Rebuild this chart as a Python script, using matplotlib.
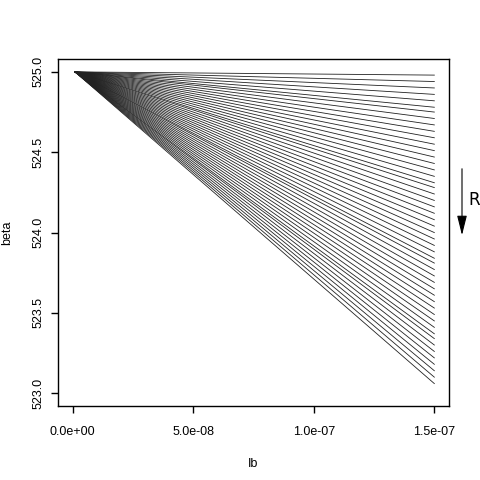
import matplotlib
matplotlib.use('Agg')
import matplotlib.pyplot as plt

# Ib range shared by every curve, and beta at the start / end of each curve
ib_start = 1e-9
ib_end = 1.5e-7
beta_start = 525.0
beta_end = [524.98, 524.94, 524.90, 524.86, 524.82, 524.78, 524.75, 524.71, 524.67, 524.63,
            524.59, 524.55, 524.51, 524.47, 524.43, 524.39, 524.35, 524.31, 524.28, 524.24,
            524.20, 524.16, 524.12, 524.08, 524.04, 524.00, 523.96, 523.92, 523.88, 523.84,
            523.81, 523.77, 523.73, 523.69, 523.65, 523.61, 523.57, 523.53, 523.49, 523.45,
            523.41, 523.37, 523.34, 523.30, 523.26, 523.22, 523.18, 523.14, 523.10, 523.06]

xticks = [0, 5e-8, 1e-7, 1.5e-7]
xticklabels = ['0.0e+00', '5.0e-08', '1.0e-07', '1.5e-07']
yticks = [523.0, 523.5, 524.0, 524.5, 525.0]
yticklabels = ['523.0', '523.5', '524.0', '524.5', '525.0']

plt.rcParams['font.family'] = ['Liberation Sans', 'DejaVu Sans']

fig = plt.figure(figsize=(4.8, 4.8), dpi=100)
ax = fig.add_axes([0.121, 0.154, 0.814, 0.723])

for b in beta_end:
    ax.plot([ib_start, ib_end], [beta_start, b], color='#222222', linewidth=0.6)

# R-style 4% padding around the data range
ax.set_xlim(-0.04 * 1.5e-7, 1.5e-7 * 1.04)
ax.set_ylim(523.0 - 0.08, 525.0 + 0.08)

ax.set_xticks(xticks)
ax.set_xticklabels(xticklabels, fontsize=9)
ax.set_yticks(yticks)
ax.set_yticklabels(yticklabels, fontsize=9, rotation=90, va='center')
ax.tick_params(direction='out', length=5, width=1)
ax.tick_params(axis='x', pad=9)
ax.tick_params(axis='y', pad=5)
for s in ax.spines.values():
    s.set_linewidth(1.0)

ax.set_xlabel('Ib', fontsize=9, labelpad=15)
ax.set_ylabel('beta', fontsize=9, labelpad=14)

# arrow outside the plot showing increasing R
fig.patches.append(matplotlib.patches.FancyArrowPatch(
    (462 / 480, 1 - 166 / 480), (462 / 480, 1 - 238 / 480),
    transform=fig.transFigure, arrowstyle='-|>,head_length=1.0,head_width=0.25',
    mutation_scale=12, color='black', linewidth=0.8))
fig.text(468 / 480, 1 - 200 / 480, 'R', fontsize=12, family='DejaVu Sans', va='center')

fig.savefig('out.png', dpi=100)
